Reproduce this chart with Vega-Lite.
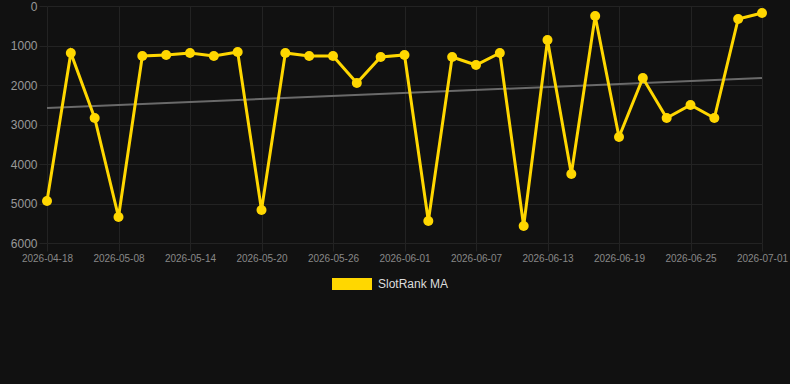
{
  "$schema": "https://vega.github.io/schema/vega-lite/v6.json",
  "width": 743,
  "height": 237,
  "autosize": "none",
  "padding": {"left": 47, "top": 6, "right": 0, "bottom": 141},
  "background": "#111111",
  "config": {
    "view": {"stroke": null},
    "font": "Liberation Sans",
    "axis": {"gridColor": "#232323", "tickColor": "#232323", "domain": false}
  },
  "datasets": {
    "rank": [
      {"date": "2026-04-18", "rank": 4937},
      {"date": "2026-04-25", "rank": 1190},
      {"date": "2026-05-02", "rank": 2835},
      {"date": "2026-05-08", "rank": 5342},
      {"date": "2026-05-10", "rank": 1266},
      {"date": "2026-05-12", "rank": 1240},
      {"date": "2026-05-14", "rank": 1190},
      {"date": "2026-05-16", "rank": 1266},
      {"date": "2026-05-18", "rank": 1165},
      {"date": "2026-05-20", "rank": 5165},
      {"date": "2026-05-22", "rank": 1190},
      {"date": "2026-05-24", "rank": 1266},
      {"date": "2026-05-26", "rank": 1266},
      {"date": "2026-05-28", "rank": 1950},
      {"date": "2026-05-30", "rank": 1291},
      {"date": "2026-06-01", "rank": 1240},
      {"date": "2026-06-03", "rank": 5443},
      {"date": "2026-06-05", "rank": 1291},
      {"date": "2026-06-07", "rank": 1494},
      {"date": "2026-06-09", "rank": 1190},
      {"date": "2026-06-11", "rank": 5570},
      {"date": "2026-06-13", "rank": 861},
      {"date": "2026-06-15", "rank": 4253},
      {"date": "2026-06-17", "rank": 253},
      {"date": "2026-06-19", "rank": 3316},
      {"date": "2026-06-21", "rank": 1823},
      {"date": "2026-06-23", "rank": 2835},
      {"date": "2026-06-25", "rank": 2506},
      {"date": "2026-06-27", "rank": 2835},
      {"date": "2026-06-29", "rank": 329},
      {"date": "2026-07-01", "rank": 177}
    ],
    "trend": [
      {"date": "2026-04-18", "rank": 2582},
      {"date": "2026-07-01", "rank": 1823}
    ]
  },
  "encoding": {
    "x": {
      "field": "date",
      "type": "ordinal",
      "sort": "ascending",
      "scale": {"type": "point", "range": [0, 715], "padding": 0},
      "axis": {
        "title": null,
        "values": ["2026-04-18", "2026-05-08", "2026-05-14", "2026-05-20", "2026-05-26", "2026-06-01", "2026-06-07", "2026-06-13", "2026-06-19", "2026-06-25", "2026-07-01"],
        "labelAngle": 0,
        "labelFontSize": 10,
        "labelColor": "#888888",
        "tickSize": 8,
        "labelPadding": 2,
        "grid": true
      }
    },
    "y": {
      "field": "rank",
      "type": "quantitative",
      "scale": {"domain": [0, 6000], "reverse": true, "nice": false},
      "axis": {
        "title": null,
        "values": [0, 1000, 2000, 3000, 4000, 5000, 6000],
        "format": "d",
        "labelFontSize": 12,
        "labelColor": "#999999",
        "tickSize": 8,
        "labelPadding": 2,
        "grid": true
      }
    }
  },
  "layer": [
    {
      "data": {"name": "trend"},
      "mark": {"type": "line", "color": "#6a6a6a", "strokeWidth": 2}
    },
    {
      "data": {"name": "rank"},
      "mark": {"type": "line", "strokeWidth": 3, "point": {"filled": true, "size": 100, "opacity": 1}},
      "encoding": {
        "color": {
          "datum": "SlotRank MA",
          "type": "nominal",
          "scale": {"range": ["#FFD700"]},
          "legend": {
            "title": null,
            "orient": "none",
            "legendX": 285,
            "legendY": 258,
            "symbolType": "M-1,-0.3H1V0.3H-1Z",
            "symbolSize": 1600,
            "symbolStrokeWidth": 0,
            "symbolFillColor": "#FFD700",
            "labelColor": "#dddddd",
            "labelFontSize": 12,
            "labelOffset": 6
          }
        }
      }
    }
  ]
}
